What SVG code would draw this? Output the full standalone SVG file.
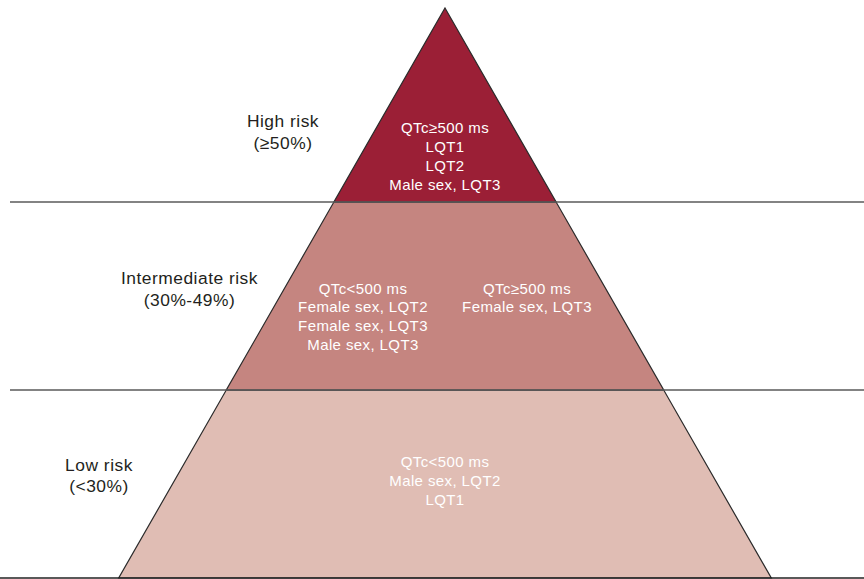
<svg xmlns="http://www.w3.org/2000/svg" width="864" height="579" viewBox="0 0 864 579">
<style>
.tier{stroke:#2b2b2b;stroke-width:1.2;stroke-linejoin:miter}
.sep{stroke:#5a5a5a;stroke-width:1.4;fill:none}
.base{stroke:#222;stroke-width:1.6;fill:none}
.w{fill:#fff;font-family:"Liberation Sans",Arial,sans-serif;font-size:15px;letter-spacing:0.4px;text-anchor:middle}
.d{fill:#231f20;font-family:"Liberation Sans",Arial,sans-serif;font-size:17.4px;letter-spacing:0.5px;text-anchor:middle}
</style>
<rect width="864" height="579" fill="#fff"/>
<g id="tier-low">
<polygon class="tier" points="226.3,390 663.7,390 771.3,578 118.7,578" fill="#e0bdb4"/>
<text class="w" fill="#fff"><tspan x="445" y="467">QTc&lt;500 ms</tspan><tspan x="445" y="486">Male sex, LQT2</tspan><tspan x="445" y="505">LQT1</tspan></text>
</g>
<g id="tier-intermediate">
<polygon class="tier" points="333.9,202 556.1,202 663.7,390 226.3,390" fill="#c58580"/>
<text class="w"><tspan x="363" y="293.5">QTc&lt;500 ms</tspan><tspan x="363" y="312">Female sex, LQT2</tspan><tspan x="363" y="331">Female sex, LQT3</tspan><tspan x="363" y="350">Male sex, LQT3</tspan></text>
<text class="w"><tspan x="527" y="293.5">QTc≥500 ms</tspan><tspan x="527" y="312">Female sex, LQT3</tspan></text>
</g>
<g id="tier-high">
<polygon class="tier" points="445,8 556.1,202 333.9,202" fill="#9b1f36"/>
<text class="w"><tspan x="445" y="133">QTc≥500 ms</tspan><tspan x="445" y="152">LQT1</tspan><tspan x="445" y="171">LQT2</tspan><tspan x="445" y="190">Male sex, LQT3</tspan></text>
</g>
<g id="connectors">
<line class="sep" x1="10" y1="202" x2="864" y2="202"/>
<line class="sep" x1="10" y1="390" x2="864" y2="390"/>
<line class="base" x1="0" y1="578" x2="864" y2="578"/>
</g>
<g id="label-high">
<text class="d"><tspan x="283" y="127">High risk</tspan><tspan x="283" y="148.5">(≥50%)</tspan></text>
</g>
<g id="label-intermediate">
<text class="d"><tspan x="189.5" y="284">Intermediate risk</tspan><tspan x="189.5" y="305.5">(30%-49%)</tspan></text>
</g>
<g id="label-low">
<text class="d"><tspan x="99" y="470.5">Low risk</tspan><tspan x="99" y="492">(&lt;30%)</tspan></text>
</g>
</svg>
